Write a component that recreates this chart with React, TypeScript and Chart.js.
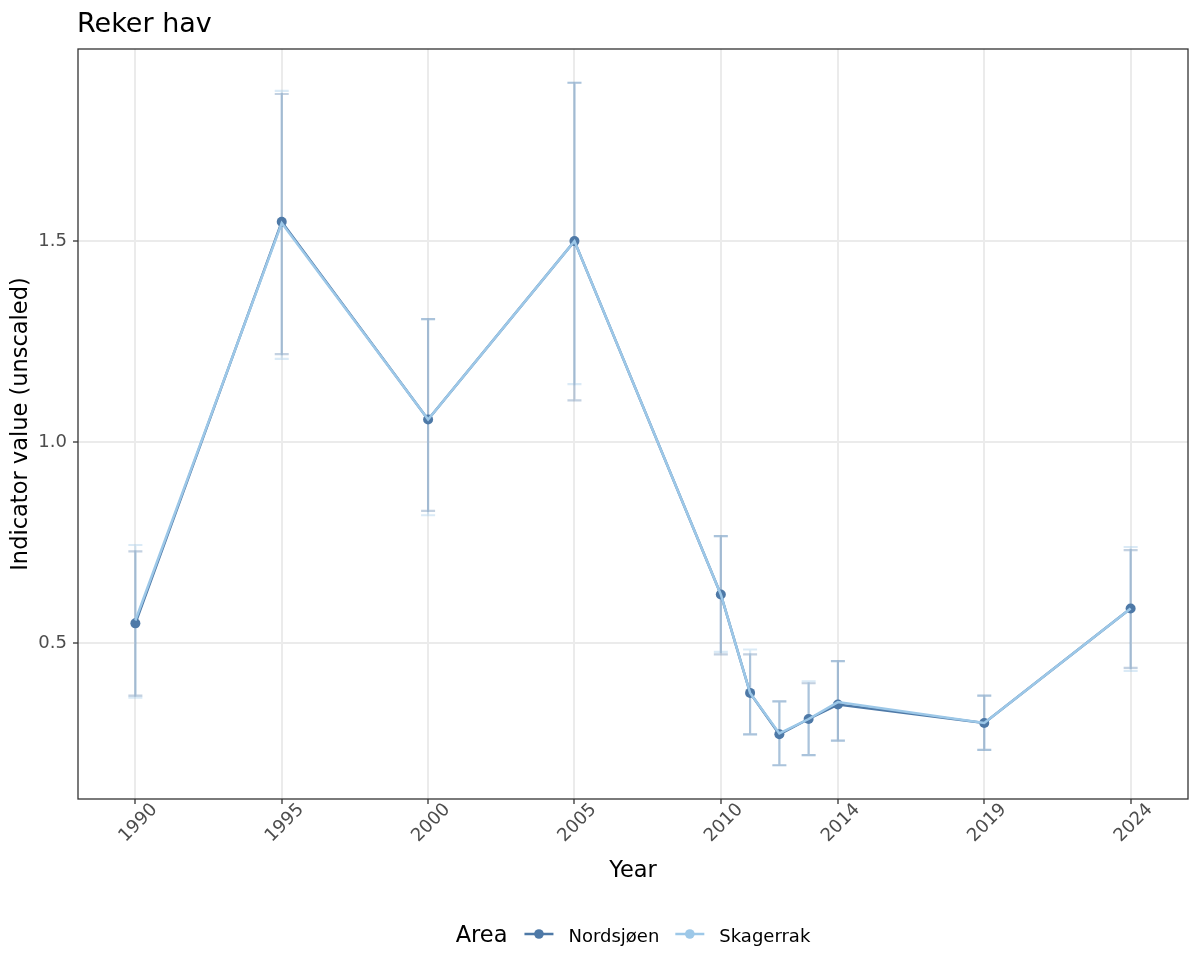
import React, { useEffect, useRef } from "react";
import { Chart, registerables } from "chart.js";

Chart.register(...registerables);

// ---- Data ----
const years = [1990, 1995, 2000, 2005, 2010, 2011, 2012, 2013, 2014, 2019, 2024];

const nordsjoenValues = [0.549, 1.548, 1.056, 1.5, 0.621, 0.376, 0.273, 0.311, 0.347, 0.301, 0.586];
const nordsjoenLower = [0.369, 1.219, 0.829, 1.104, 0.472, 0.273, 0.196, 0.221, 0.257, 0.234, 0.438];
const nordsjoenUpper = [0.728, 1.866, 1.306, 1.894, 0.766, 0.472, 0.355, 0.4, 0.455, 0.369, 0.731];

const skagerrakValues = [0.556, 1.545, 1.056, 1.5, 0.621, 0.376, 0.275, 0.311, 0.353, 0.301, 0.586];
const skagerrakLower = [0.364, 1.207, 0.818, 1.144, 0.478, 0.273, 0.196, 0.221, 0.257, 0.234, 0.431];
const skagerrakUpper = [0.744, 1.874, 1.306, 1.894, 0.766, 0.484, 0.355, 0.405, 0.455, 0.369, 0.739];

const xTickValues = [1990, 1995, 2000, 2005, 2010, 2014, 2019, 2024];
const xTickLabels = ["1990", "1995", "2000", "2005", "2010", "2014", "2019", "2024"];
const yTickValues = [0.5, 1.0, 1.5];
const yTickLabels = ["0.5", "1.0", "1.5"];

const seriesNames = ["Nordsjøen", "Skagerrak"];
const titleText = "Reker hav";
const xTitle = "Year";
const yTitle = "Indicator value (unscaled)";
const legendTitle = "Area";

// ---- Styles ----
const FONT = "'DejaVu Sans', 'Liberation Sans', sans-serif";
const DARK = "#4E79A7";
const LIGHT = "#9DC8E8";
const DARK_ERR = "rgba(78,121,167,0.34)";
const LIGHT_ERR = "rgba(157,200,232,0.38)";

const errorBarPlugin = {
  id: "errorBars",
  beforeDatasetsDraw(chart: any) {
    const { ctx, chartArea, scales } = chart;
    const x = scales.x;
    const y = scales.y;
    ctx.save();
    ctx.beginPath();
    ctx.rect(chartArea.left, chartArea.top, chartArea.right - chartArea.left, chartArea.bottom - chartArea.top);
    ctx.clip();
    const draw = (lo: number[], hi: number[], color: string) => {
      ctx.strokeStyle = color;
      ctx.lineWidth = 2.2;
      for (let i = 0; i < years.length; i++) {
        const px = x.getPixelForValue(years[i]);
        const py1 = y.getPixelForValue(lo[i]);
        const py2 = y.getPixelForValue(hi[i]);
        ctx.beginPath();
        ctx.moveTo(px, py1);
        ctx.lineTo(px, py2);
        ctx.moveTo(px - 7, py1);
        ctx.lineTo(px + 7, py1);
        ctx.moveTo(px - 7, py2);
        ctx.lineTo(px + 7, py2);
        ctx.stroke();
      }
    };
    draw(skagerrakLower, skagerrakUpper, LIGHT_ERR);
    draw(nordsjoenLower, nordsjoenUpper, DARK_ERR);
    ctx.restore();
  },
};

const decorPlugin = {
  id: "decor",
  afterDraw(chart: any) {
    const { ctx, chartArea, scales } = chart;
    const x = scales.x;
    const { left, top, right, bottom } = chartArea;
    ctx.save();

    // panel border
    ctx.strokeStyle = "#333333";
    ctx.lineWidth = 1.3;
    ctx.strokeRect(left, top, right - left, bottom - top);

    // title
    ctx.fillStyle = "#000000";
    ctx.font = `27px ${FONT}`;
    ctx.textAlign = "left";
    ctx.textBaseline = "alphabetic";
    ctx.fillText(titleText, 77, 32);

    // x tick labels (rotated 45)
    ctx.font = `18px ${FONT}`;
    ctx.fillStyle = "#4d4d4d";
    ctx.textAlign = "center";
    ctx.textBaseline = "middle";
    for (let i = 0; i < xTickValues.length; i++) {
      const px = x.getPixelForValue(xTickValues[i]);
      ctx.save();
      ctx.translate(px + 3, 823);
      ctx.rotate(-Math.PI / 4);
      ctx.fillText(xTickLabels[i], 0, 0);
      ctx.restore();
    }

    // axis titles
    ctx.fillStyle = "#000000";
    ctx.font = `22.5px ${FONT}`;
    ctx.textAlign = "center";
    ctx.textBaseline = "alphabetic";
    ctx.fillText(xTitle, (left + right) / 2, 877);
    ctx.save();
    ctx.translate(27, (top + bottom) / 2);
    ctx.rotate(-Math.PI / 2);
    ctx.fillText(yTitle, 0, 0);
    ctx.restore();

    // legend
    const colors = [DARK, LIGHT];
    ctx.textAlign = "left";
    ctx.font = `22.5px ${FONT}`;
    const wTitle = ctx.measureText(legendTitle).width;
    ctx.font = `18px ${FONT}`;
    const wLabels = seriesNames.map((s) => ctx.measureText(s).width);
    const keyW = 29;
    const total = wTitle + 17 + (keyW + 15) * 2 + wLabels[0] + 16 + wLabels[1];
    let cx = (left + right) / 2 - total / 2;
    const baseY = 942;
    const keyY = 934;
    ctx.font = `22.5px ${FONT}`;
    ctx.fillStyle = "#000000";
    ctx.fillText(legendTitle, cx, baseY);
    cx += wTitle + 17;
    for (let i = 0; i < seriesNames.length; i++) {
      ctx.strokeStyle = colors[i];
      ctx.lineWidth = 2.5;
      ctx.beginPath();
      ctx.moveTo(cx, keyY);
      ctx.lineTo(cx + keyW, keyY);
      ctx.stroke();
      ctx.fillStyle = colors[i];
      ctx.beginPath();
      ctx.arc(cx + keyW / 2, keyY, 4.8, 0, Math.PI * 2);
      ctx.fill();
      cx += keyW + 15;
      ctx.font = `18px ${FONT}`;
      ctx.fillStyle = "#000000";
      ctx.fillText(seriesNames[i], cx, baseY);
      cx += wLabels[i] + 16;
    }
    ctx.restore();
  },
};

export default function App() {
  const canvasRef = useRef<HTMLCanvasElement | null>(null);

  useEffect(() => {
    const canvas = canvasRef.current;
    if (!canvas) return;
    const chart = new Chart(canvas, {
      type: "line",
      data: {
        datasets: [
          {
            label: seriesNames[1],
            data: years.map((yr, i) => ({ x: yr, y: skagerrakValues[i] })),
            borderColor: LIGHT,
            backgroundColor: LIGHT,
            borderWidth: 2.5,
            pointRadius: 0,
            pointHoverRadius: 0,
            tension: 0,
          },
          {
            label: seriesNames[0],
            data: years.map((yr, i) => ({ x: yr, y: nordsjoenValues[i] })),
            borderColor: DARK,
            backgroundColor: DARK,
            borderWidth: 2.5,
            pointRadius: 5,
            pointBorderWidth: 0,
            pointBackgroundColor: DARK,
            tension: 0,
          },
        ],
      },
      options: {
        animation: false,
        responsive: false,
        maintainAspectRatio: false,
        events: [],
        layout: { padding: { left: 0, top: 49, right: 12, bottom: 0 } },
        plugins: {
          legend: { display: false },
          title: { display: false },
          tooltip: { enabled: false },
        },
        scales: {
          x: {
            type: "linear",
            min: 1988.04,
            max: 2025.96,
            afterBuildTicks: (scale: any) => {
              scale.ticks = xTickValues.map((v) => ({ value: v }));
            },
            afterFit: (scale: any) => {
              scale.height = 176;
            },
            ticks: { display: false },
            grid: {
              color: "#ebebeb",
              lineWidth: 2,
              drawTicks: true,
              tickLength: 5,
              tickColor: "#333333",
              tickWidth: 1.3,
            },
            border: { display: false },
          },
          y: {
            type: "linear",
            min: 0.112,
            max: 1.978,
            afterBuildTicks: (scale: any) => {
              scale.ticks = yTickValues.map((v) => ({ value: v }));
            },
            afterFit: (scale: any) => {
              scale.width = 78;
            },
            ticks: {
              padding: 6,
              color: "#4d4d4d",
              font: { family: FONT, size: 18 },
              callback: (value: any) => {
                const idx = yTickValues.indexOf(Number(value));
                return idx >= 0 ? yTickLabels[idx] : "";
              },
            },
            grid: {
              color: "#ebebeb",
              lineWidth: 2,
              drawTicks: true,
              tickLength: 5,
              tickColor: "#333333",
              tickWidth: 1.3,
            },
            border: { display: false },
          },
        },
      } as any,
      plugins: [errorBarPlugin, decorPlugin],
    });
    return () => chart.destroy();
  }, []);

  return (
    <div style={{ position: "fixed", left: 0, top: 0, width: 1200, height: 975, background: "#ffffff" }}>
      <canvas ref={canvasRef} width={1200} height={975} style={{ display: "block", width: 1200, height: 975 }} />
    </div>
  );
}
